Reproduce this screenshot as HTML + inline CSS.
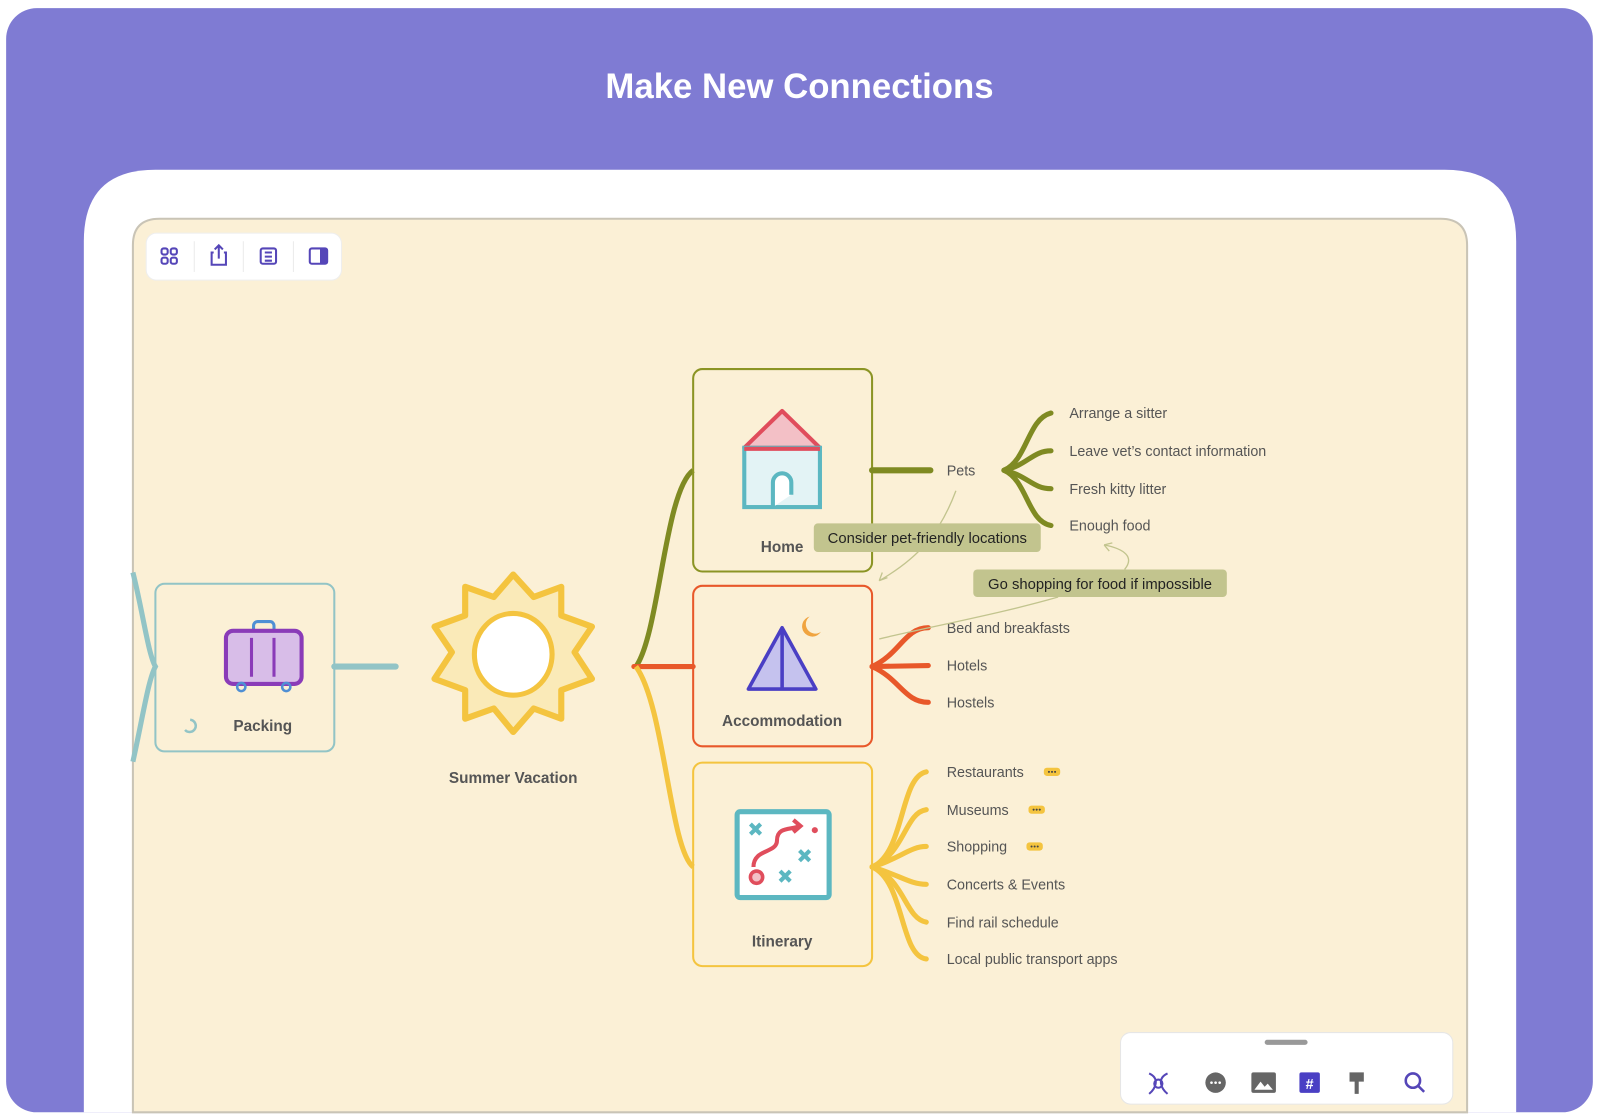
<!DOCTYPE html>
<html><head><meta charset="utf-8"><style>
html,body{margin:0;padding:0;background:#fff;width:1600px;height:1117px;overflow:hidden}
svg{display:block}
text{font-family:"Liberation Sans",sans-serif}
</style></head><body>
<svg width="1600" height="1117" viewBox="0 0 1565 1092.6" preserveAspectRatio="none" xmlns="http://www.w3.org/2000/svg">
<rect x="0" y="0" width="1565" height="1093" fill="#fff"/>
<rect x="6" y="8" width="1552" height="1080" rx="30" fill="#7f7bd3"/>
<text x="782" y="96" text-anchor="middle" font-size="34" font-weight="bold" fill="#fff">Make New Connections</text>
<path d="M82,1088 L82,236 Q82,166 152,166 L1413,166 Q1483,166 1483,236 L1483,1088 Z" fill="#fff"/>
<path d="M130,1088 L130,240 Q130,214 156,214 L1409,214 Q1435,214 1435,240 L1435,1088 Z" fill="#fbf0d6" stroke="#c9c4b6" stroke-width="2"/>
<!-- top toolbar -->
<rect x="143" y="228" width="191" height="46" rx="10" fill="#fff" stroke="#eee"/>
<g stroke="#eaeaea"><line x1="190" y1="236" x2="190" y2="266"/><line x1="238" y1="236" x2="238" y2="266"/><line x1="287" y1="236" x2="287" y2="266"/></g>
<g fill="none" stroke="#5546b8" stroke-width="2">
<rect x="158" y="243" width="6" height="6" rx="2"/><rect x="167" y="243" width="6" height="6" rx="2"/><rect x="158" y="252" width="6" height="6" rx="2"/><rect x="167" y="252" width="6" height="6" rx="2"/>
<path d="M209,247 L207,247 L207,259 L221,259 L221,247 L219,247 M214,253 L214,240 M210,244 L214,240 L218,244"/>
<rect x="255" y="243" width="15" height="15" rx="2"/><path d="M259,247h7M259,251h7M259,255h7"/>
<rect x="303" y="243" width="17" height="15" rx="2"/>
</g>
<rect x="313" y="243" width="7" height="15" fill="#5546b8"/>
<!-- left teal -->
<path d="M130,560 C140,600 145,640 152,652 C145,665 140,700 130,745" fill="none" stroke="#92c4c6" stroke-width="5"/>
<!-- packing -->
<rect x="152" y="571" width="175" height="164" rx="9" fill="none" stroke="#92c4c6" stroke-width="2"/>
<path d="M327,652 L387,652" stroke="#92c4c6" stroke-width="6" stroke-linecap="round"/>
<rect x="248" y="608" width="20" height="12" rx="4" fill="none" stroke="#4f8fd4" stroke-width="3"/>
<rect x="221" y="617" width="74" height="52" rx="7" fill="#d8bde8" stroke="#8a3bb8" stroke-width="4"/>
<path d="M246,624v38M268,624v38" stroke="#8a3bb8" stroke-width="3"/>
<circle cx="236" cy="672" r="4" fill="none" stroke="#4f8fd4" stroke-width="2.5"/><circle cx="280" cy="672" r="4" fill="none" stroke="#4f8fd4" stroke-width="2.5"/>
<path d="M186,704 A6,6 0 1 1 181,714" fill="none" stroke="#92c4c6" stroke-width="2.5"/>
<text x="257" y="715" text-anchor="middle" font-size="15" font-weight="bold" fill="#555">Packing</text>
<!-- sun -->
<polygon points="502,562 522,584 549,574 549,602 579,613 562,638 579,664 549,675 549,703 522,693 502,716 483,693 455,703 455,675 425,664 442,638 425,613 455,602 455,574 483,584" fill="#faeab8" stroke="#f4c43f" stroke-width="6" stroke-linejoin="round"/>
<ellipse cx="502" cy="640" rx="38" ry="40" fill="#fff" stroke="#f4c43f" stroke-width="5"/>
<text x="502" y="766" text-anchor="middle" font-size="15" font-weight="bold" fill="#555">Summer Vacation</text>
<!-- main branches -->
<path d="M622,652 C645,620 650,480 678,460" fill="none" stroke="#7f8a22" stroke-width="5"/>
<path d="M620,652 L678,652" stroke="#e8582a" stroke-width="5" stroke-linecap="round"/>
<path d="M622,652 C650,690 655,830 678,848" fill="none" stroke="#f4c43f" stroke-width="5"/>
<!-- home -->
<rect x="678" y="361" width="175" height="198" rx="9" fill="none" stroke="#8b9424" stroke-width="2"/>
<polygon points="765,402 802,438 728,438" fill="#f3c0c6" stroke="#e04d5c" stroke-width="4" stroke-linejoin="round"/>
<rect x="728" y="438" width="74" height="58" fill="#e3f3f5" stroke="#5cb7c1" stroke-width="4"/>
<line x1="728" y1="439" x2="802" y2="439" stroke="#e04d5c" stroke-width="4"/>
<path d="M756,496 L756,472 A9,9 0 0 1 774,472 L774,484" fill="#fff" stroke="#5cb7c1" stroke-width="4"/>
<text x="765" y="540" text-anchor="middle" font-size="15" font-weight="bold" fill="#555">Home</text>
<path d="M853,460 L910,460" stroke="#7f8a22" stroke-width="6" stroke-linecap="round"/>
<text x="926" y="465" font-size="14" fill="#555">Pets</text>
<g fill="none" stroke="#7f8a22" stroke-width="5" stroke-linecap="round">
<path d="M982,460 C1005,450 1005,410 1028,404"/><path d="M982,460 C1005,455 1010,441 1028,441"/>
<path d="M982,460 C1005,465 1010,478 1028,478"/><path d="M982,460 C1005,470 1005,510 1028,514"/>
</g>
<g font-size="14" fill="#555">
<text x="1046" y="409">Arrange a sitter</text><text x="1046" y="446">Leave vet’s contact information</text>
<text x="1046" y="483">Fresh kitty litter</text><text x="1046" y="519">Enough food</text>
</g>
<!-- accommodation -->
<rect x="678" y="573" width="175" height="157" rx="9" fill="none" stroke="#e8582a" stroke-width="2"/>
<polygon points="765,614 798,674 732,674" fill="#c5c2ee" stroke="#4a3fc4" stroke-width="3.5" stroke-linejoin="round"/>
<line x1="765" y1="616" x2="765" y2="674" stroke="#4a3fc4" stroke-width="3.5"/>
<path d="M792,603 A10,10 0 1 0 803,618 A8,8 0 0 1 792,603Z" fill="#f0a440"/>
<text x="765" y="710" text-anchor="middle" font-size="15" font-weight="bold" fill="#555">Accommodation</text>
<g fill="none" stroke="#e8582a" stroke-width="5" stroke-linecap="round">
<path d="M853,652 C880,640 885,614 908,614"/><path d="M853,652 L908,651"/><path d="M853,652 C880,664 885,687 908,687"/>
</g>
<g font-size="14" fill="#555"><text x="926" y="619">Bed and breakfasts</text><text x="926" y="656">Hotels</text><text x="926" y="692">Hostels</text></g>
<!-- itinerary -->
<rect x="678" y="746" width="175" height="199" rx="9" fill="none" stroke="#f4c43f" stroke-width="2"/>
<rect x="721" y="794" width="90" height="84" rx="3" fill="#fff" stroke="#5cb7c1" stroke-width="5"/>
<path d="M734,806l10,10M744,806l-10,10M782,832l10,10M792,832l-10,10M763,852l10,10M773,852l-10,10" stroke="#5cb7c1" stroke-width="4"/>
<path d="M737,848 C737,830 760,835 760,822 C760,808 775,812 782,808 M776,802 L783,808 L776,814" fill="none" stroke="#e04d5c" stroke-width="4"/>
<circle cx="797" cy="812" r="3" fill="#e04d5c"/><circle cx="740" cy="858" r="6" fill="#f3c0c6" stroke="#e04d5c" stroke-width="3.5"/>
<text x="765" y="926" text-anchor="middle" font-size="15" font-weight="bold" fill="#555">Itinerary</text>
<g fill="none" stroke="#f4c43f" stroke-width="5" stroke-linecap="round">
<path d="M853,848 C885,835 880,760 906,755"/><path d="M853,848 C885,835 885,795 906,792"/><path d="M853,848 C880,840 890,828 906,828"/>
<path d="M853,848 C880,856 890,865 906,865"/><path d="M853,848 C885,860 885,898 906,902"/><path d="M853,848 C885,862 880,935 906,938"/>
</g>
<g font-size="14" fill="#555"><text x="926" y="760">Restaurants</text><text x="926" y="797">Museums</text><text x="926" y="833">Shopping</text>
<text x="926" y="870">Concerts &amp; Events</text><text x="926" y="907">Find rail schedule</text><text x="926" y="943">Local public transport apps</text></g>
<g fill="#f4c43f"><rect x="1021" y="751" width="16" height="8" rx="3"/><rect x="1006" y="788" width="16" height="8" rx="3"/><rect x="1004" y="824" width="16" height="8" rx="3"/></g>
<g fill="#444"><circle cx="1026" cy="755" r="1"/><circle cx="1029" cy="755" r="1"/><circle cx="1032" cy="755" r="1"/><circle cx="1011" cy="792" r="1"/><circle cx="1014" cy="792" r="1"/><circle cx="1017" cy="792" r="1"/><circle cx="1009" cy="828" r="1"/><circle cx="1012" cy="828" r="1"/><circle cx="1015" cy="828" r="1"/></g>
<!-- relationship lines -->
<g fill="none" stroke="#c2c48e" stroke-width="1.3">
<path d="M935,480 C920,520 900,545 860,568"/><path d="M860,568 l3,-8 M860,568 l8,-3"/>
<path d="M1100,557 C1110,545 1100,537 1080,533"/><path d="M1080,533 l8,-2 M1080,533 l5,6"/>
<path d="M1035,584 C980,600 900,615 860,625"/>
</g>
<rect x="796" y="512" width="222" height="28" rx="4" fill="#c2c48e"/>
<text x="907" y="531" text-anchor="middle" font-size="14.5" fill="#222">Consider pet-friendly locations</text>
<rect x="952" y="557" width="248" height="27" rx="4" fill="#c2c48e"/>
<text x="1076" y="576" text-anchor="middle" font-size="14.5" fill="#222">Go shopping for food if impossible</text>
<!-- bottom toolbar -->
<rect x="1096" y="1010" width="325" height="70" rx="10" fill="#fff" stroke="#e6e6e6"/>
<rect x="1237" y="1017" width="42" height="5" rx="2.5" fill="#999"/>
<g fill="none" stroke="#5546b8" stroke-width="2"><path d="M1124,1050 C1135,1055 1130,1065 1124,1070 M1142,1050 C1131,1055 1136,1065 1142,1070"/><circle cx="1133" cy="1060" r="4"/></g>
<circle cx="1189" cy="1059" r="10" fill="#666"/><g fill="#fff"><circle cx="1185" cy="1059" r="1.3"/><circle cx="1189" cy="1059" r="1.3"/><circle cx="1193" cy="1059" r="1.3"/></g>
<rect x="1224" y="1049" width="24" height="20" rx="2" fill="#666"/><path d="M1227,1066 l6,-8 l4,5 l3,-3 l5,6z" fill="#fff"/>
<rect x="1271" y="1049" width="20" height="20" rx="2" fill="#4a3fc4"/><text x="1281" y="1065" text-anchor="middle" font-size="14" font-weight="bold" fill="#fff">#</text>
<path d="M1320,1049h14v9h-14z M1325,1058h4v12h-4z" fill="#666"/>
<circle cx="1382" cy="1057" r="7" fill="none" stroke="#5546b8" stroke-width="2.5"/><path d="M1387,1062l6,6" stroke="#5546b8" stroke-width="2.5"/>
</svg>
</body></html>
